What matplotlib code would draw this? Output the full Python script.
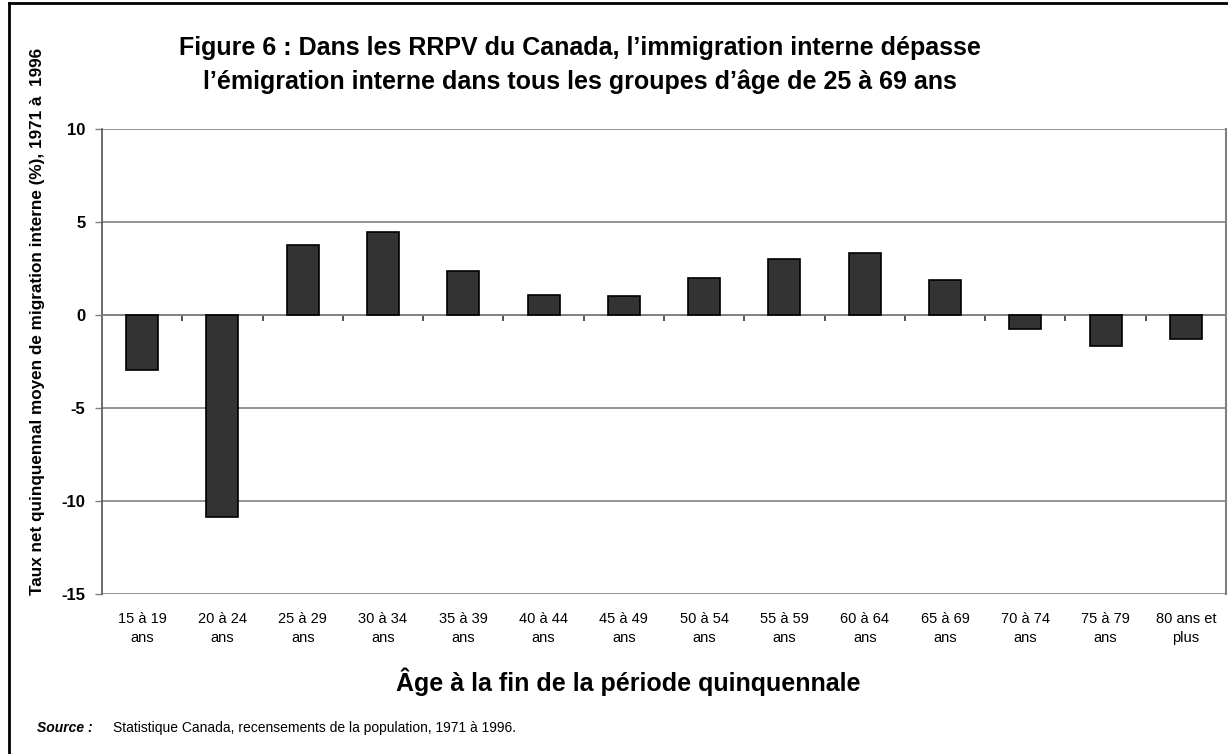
import matplotlib
matplotlib.use("Agg")
import matplotlib.pyplot as plt
from matplotlib.lines import Line2D
import matplotlib.transforms as mtransforms

plt.rcParams['font.family'] = ['Liberation Sans', 'DejaVu Sans']

categories = ["15 à 19\nans", "20 à 24\nans", "25 à 29\nans", "30 à 34\nans",
              "35 à 39\nans", "40 à 44\nans", "45 à 49\nans", "50 à 54\nans",
              "55 à 59\nans", "60 à 64\nans", "65 à 69\nans", "70 à 74\nans",
              "75 à 79\nans", "80 ans et\nplus"]
values = [-2.98, -10.86, 3.77, 4.46, 2.37, 1.08, 1.0, 1.99, 3.01, 3.33, 1.9, -0.77, -1.67, -1.31]
yticks = [-15, -10, -5, 0, 5, 10]

W, H = 1228, 754
fig = plt.figure(figsize=(W / 100, H / 100), dpi=100)

L, R, T, B = 102, 1226, 129, 594
ax = fig.add_axes([L / W, 1 - B / H, (R - L) / W, (B - T) / H])

x = list(range(len(categories)))
ax.bar(x, values, width=0.4, color='#333333', edgecolor='black', linewidth=1.2, zorder=3)

ax.set_xlim(-0.5, len(categories) - 0.5)
ax.set_ylim(-15, 10)
ax.set_yticks(yticks)
ax.set_yticklabels([str(v) for v in yticks], fontsize=12, fontweight='bold')
ax.tick_params(axis='y', direction='out', length=5, width=1, color='#808080', pad=7)
ax.yaxis.grid(True, color='#808080', linewidth=1.2, zorder=1)
ax.set_axisbelow(True)

ax.spines['top'].set_visible(False)
ax.spines['right'].set_color('#808080')
ax.spines['right'].set_linewidth(1.5)
ax.spines['left'].set_color('#555555')
ax.spines['left'].set_linewidth(1.2)
ax.spines['bottom'].set_position(('data', 0))
ax.spines['bottom'].set_color('#808080')
ax.spines['bottom'].set_linewidth(1.2)
ax.set_xticks([i + 0.5 for i in x[:-1]])
ax.set_xticklabels([])
ax.tick_params(axis='x', direction='out', length=4, width=1.2, color='#333333')

trans = mtransforms.blended_transform_factory(ax.transData, ax.transAxes)
for i, lab in zip(x, categories):
    ax.text(i, -0.038, lab, transform=trans, ha='center', va='top', fontsize=10.5,
            linespacing=1.45)

fig.text(580 / W, 1 - 65 / H,
         "Figure 6 : Dans les RRPV du Canada, l’immigration interne dépasse\n"
         "l’émigration interne dans tous les groupes d’âge de 25 à 69 ans",
         ha='center', va='center', fontsize=18, fontweight='bold', linespacing=1.45)

fig.text(38 / W, 1 - 321 / H,
         "Taux net quinquennal moyen de migration interne (%), 1971 à  1996",
         rotation=90, ha='center', va='center', fontsize=12.3, fontweight='bold')

fig.text(628 / W, 1 - 682 / H, "Âge à la fin de la période quinquennale",
         ha='center', va='center', fontsize=18, fontweight='bold')

fig.text(37 / W, 1 - 728 / H, "Source :", ha='left', va='center', fontsize=10,
         fontweight='bold', style='italic')
fig.text(113 / W, 1 - 728 / H,
         "Statistique Canada, recensements de la population, 1971 à 1996.",
         ha='left', va='center', fontsize=10)

# frame border (top and left visible)
fig.add_artist(Line2D([9 / W, 9 / W], [0, 1 - 3 / H], transform=fig.transFigure,
                      color='black', linewidth=2))
fig.add_artist(Line2D([9 / W, 1], [1 - 3 / H, 1 - 3 / H], transform=fig.transFigure,
                      color='black', linewidth=2))

fig.savefig("out.png", dpi=100)
